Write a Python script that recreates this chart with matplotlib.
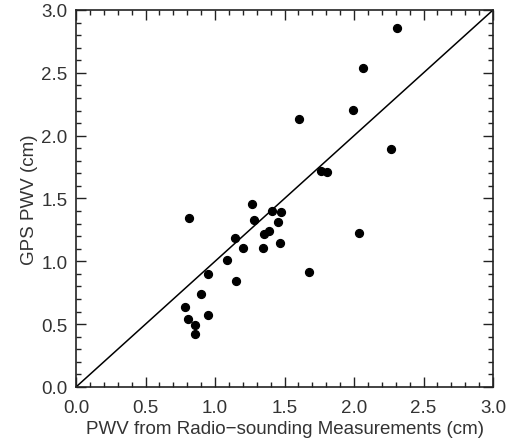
import matplotlib
matplotlib.use('Agg')
import matplotlib.pyplot as plt
from matplotlib.ticker import MultipleLocator, FormatStrFormatter

# PWV pairs (cm)
radiosonde_pwv = [0.815, 1.268, 1.281, 1.412, 1.472, 1.456, 1.353, 1.388, 1.348, 1.468,
                  1.144, 1.199, 1.086, 0.952, 1.153, 0.902, 0.787, 0.803, 0.950, 0.854,
                  0.858, 1.676, 2.038, 2.309, 2.062, 1.990, 1.602, 2.264, 1.763, 1.806]
gps_pwv = [1.345, 1.456, 1.329, 1.400, 1.395, 1.310, 1.220, 1.241, 1.103, 1.146,
           1.185, 1.106, 1.013, 0.901, 0.846, 0.740, 0.636, 0.541, 0.573, 0.496,
           0.422, 0.915, 1.228, 2.858, 2.535, 2.204, 2.136, 1.891, 1.721, 1.713]
one_to_one = [0.0, 3.0]

plt.rcParams['font.family'] = ['Liberation Sans', 'DejaVu Sans']

fig = plt.figure(figsize=(5.15, 4.39), dpi=100)
ax = fig.add_axes([0.1476, 0.1162, 0.8098, 0.8588])

ax.plot(one_to_one, one_to_one, color='black', lw=1.1)
ax.scatter(radiosonde_pwv, gps_pwv, s=32, color='black', zorder=3)

ax.set_xlim(0, 3)
ax.set_ylim(0, 3)
for axis in (ax.xaxis, ax.yaxis):
    axis.set_major_locator(MultipleLocator(0.5))
    axis.set_minor_locator(MultipleLocator(0.1))
    axis.set_major_formatter(FormatStrFormatter('%.1f'))
ax.tick_params(which='both', direction='in', top=True, right=True,
               width=1.0, colors='#222222', labelsize=13.5, labelcolor='#333333')
ax.tick_params(which='major', length=7)
ax.tick_params(axis='y', which='major', pad=6)
ax.tick_params(axis='x', which='major', pad=9)
ax.tick_params(which='minor', length=3.5)
for sp in ax.spines.values():
    sp.set_linewidth(1.2)
    sp.set_color('#222222')

ax.set_xlabel('PWV from Radio\u2212sounding Measurements (cm)', fontsize=13.5,
              color='#333333', labelpad=2.5)
ax.set_ylabel('GPS PWV (cm)', fontsize=13.5, color='#333333', labelpad=2.5)

fig.savefig('out.png', dpi=100)
